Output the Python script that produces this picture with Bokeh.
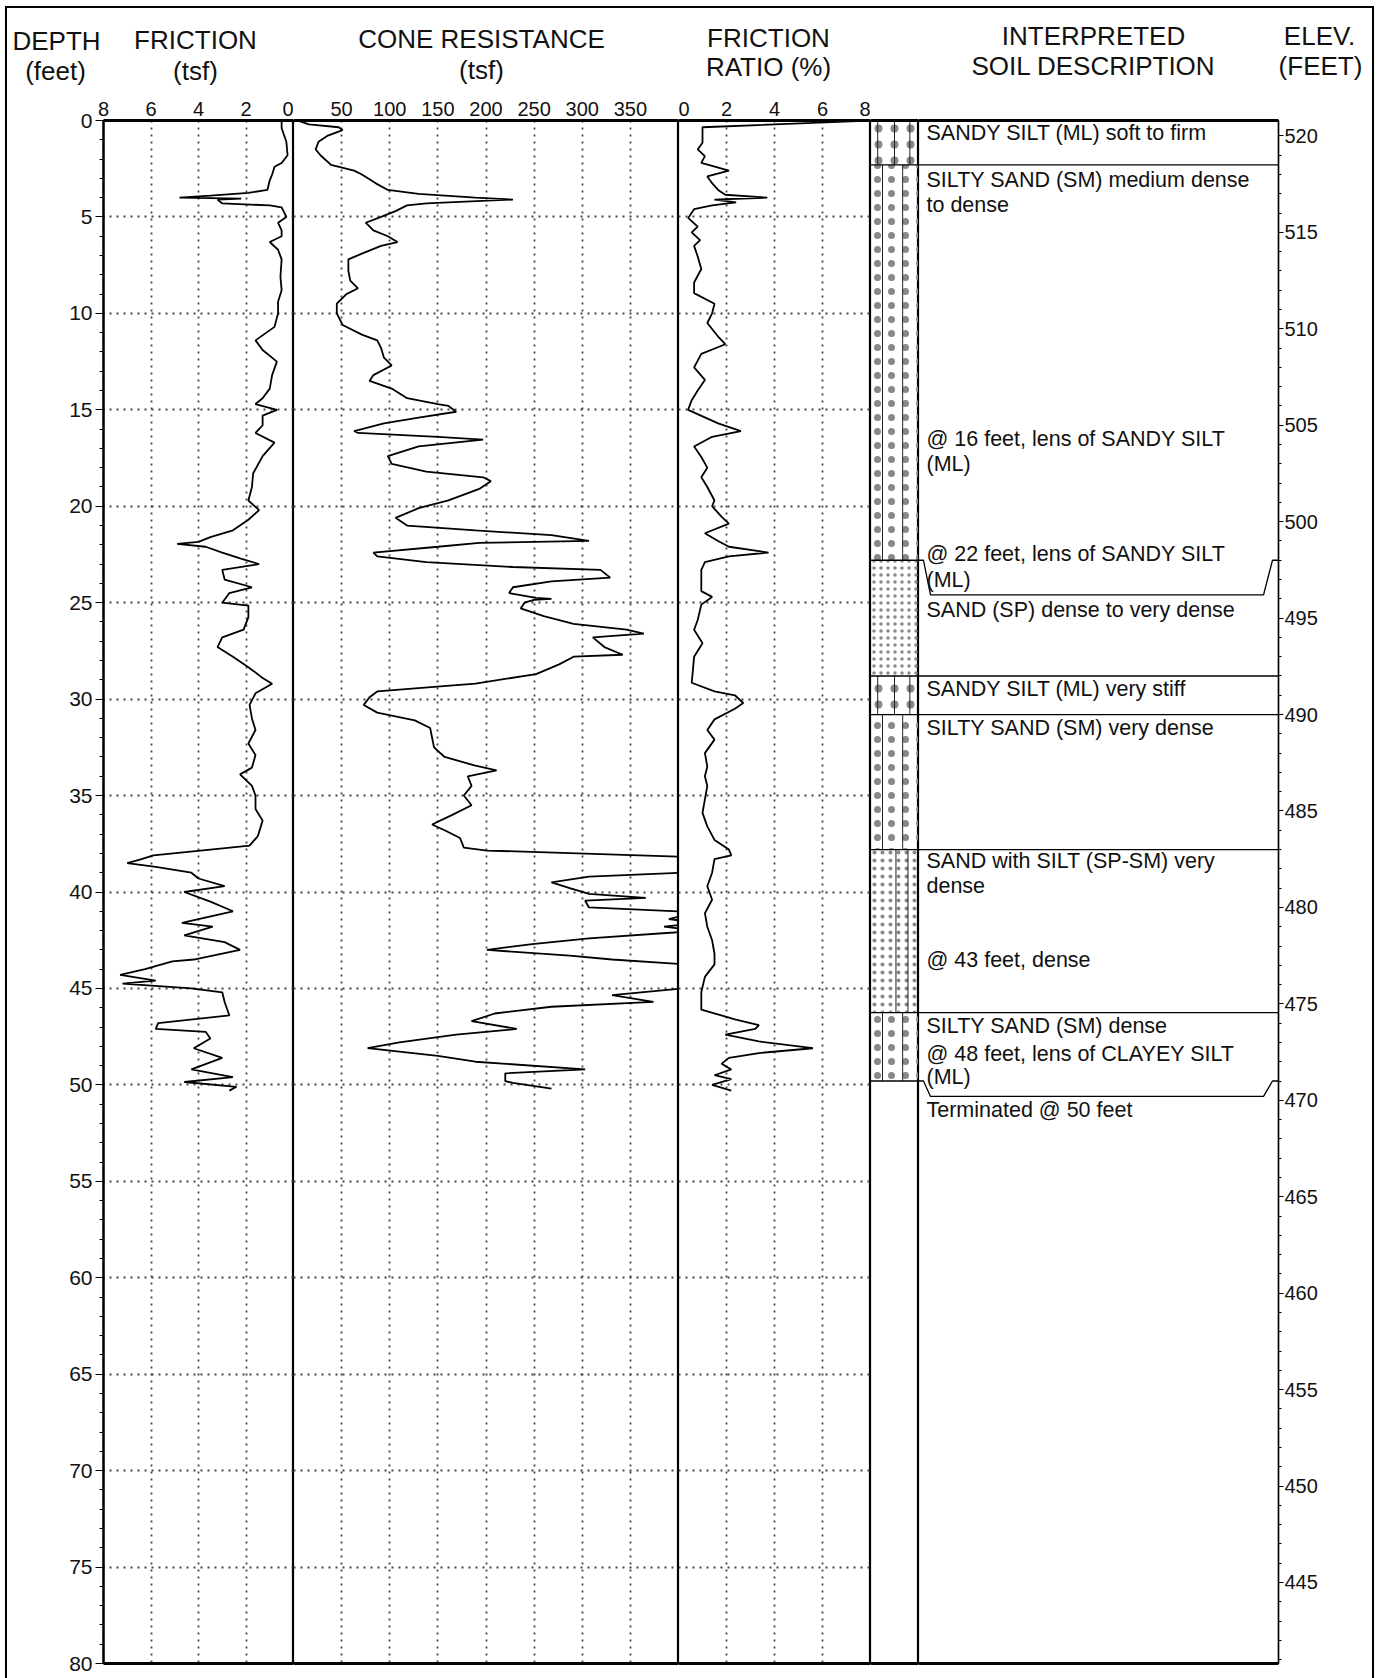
from bokeh.plotting import figure
from bokeh.layouts import row, column
from bokeh.models import Range1d, LinearAxis, FixedTicker, Grid, ColumnDataSource
from bokeh.embed import file_html
from bokeh.resources import INLINE
from bokeh.core.properties import value

FONT = "Liberation Sans"

fs_depth = [0.0, 0.4, 1.1, 1.8, 2.2, 2.4, 2.8, 3.1, 3.6, 3.75, 3.9, 4.0, 4.05, 4.1, 4.3, 4.4, 4.5, 5.0,
            5.3, 5.7, 6.0, 6.3, 6.7, 7.2, 8.1, 8.8, 9.4, 10.0, 10.7, 11.4, 11.9, 12.5, 13.2, 13.9, 14.4,
            14.7, 15.0, 15.3, 15.8, 16.2, 16.7, 17.4, 18.3, 19.0, 19.7, 20.2, 20.7, 21.25, 21.6, 21.85,
            21.95, 22.1, 22.4, 22.7, 23.0, 23.3, 23.8, 24.2, 24.5, 25.0, 25.15, 25.75, 26.4, 26.8, 27.3,
            27.8, 28.35, 28.9, 29.2, 29.7, 30.3, 31.0, 31.6, 32.3, 32.9, 33.55, 33.9, 34.5, 35.0, 35.7,
            36.3, 37.1, 37.6, 37.8, 38.1, 38.3, 38.5, 38.7, 39.0, 39.3, 39.7, 40.0, 40.5, 41.0, 41.6,
            41.8, 42.25, 42.6, 43.0, 43.5, 43.6, 44.0, 44.3, 44.6, 44.75, 45.0, 45.2, 45.7, 46.4, 46.8,
            47.1, 47.25, 47.6, 48.1, 48.6, 49.2, 49.6, 49.85, 50.1, 50.3]
fs_tsf = [0.5, 0.5, 0.3, 0.25, 0.5, 0.8, 0.9, 1.0, 1.1, 1.9, 3.5, 4.8, 2.2, 3.2, 3.0, 1.0, 0.5, 0.3,
          0.65, 0.5, 0.5, 1.0, 0.65, 0.5, 0.55, 0.5, 0.65, 0.65, 0.8, 1.6, 1.3, 0.7, 0.9, 1.0, 1.3,
          1.6, 0.7, 1.3, 1.3, 1.6, 0.8, 1.3, 1.7, 1.75, 1.9, 1.45, 1.9, 2.55, 3.5, 4.0,
          4.9, 3.7, 3.0, 2.25, 1.45, 3.0, 2.9, 1.75, 2.7, 3.0, 1.9, 1.9, 2.1, 3.0, 3.2,
          2.55, 1.9, 1.3, 0.9, 1.6, 1.85, 1.75, 1.6, 1.9, 1.6, 1.75, 2.25, 1.75, 1.6, 1.6,
          1.3, 1.5, 1.85, 3.5, 5.9, 6.4, 7.0, 5.8, 4.3, 4.0, 2.9, 4.6, 3.5, 2.55, 4.7,
          3.4, 4.6, 2.9, 2.25, 4.2, 5.1, 6.25, 7.3, 5.8, 7.2, 4.3, 3.0, 2.9, 2.7, 5.7,
          5.8, 3.7, 3.5, 4.2, 3.0, 4.3, 2.55, 4.6, 2.4, 2.7]

qc_depth = [0.0, 0.2, 0.35, 0.5, 0.8, 1.1, 1.5, 1.8, 2.3, 2.6, 2.8, 3.05, 3.3, 3.6, 3.8, 4.0, 4.1, 4.3,
            4.4, 4.7, 5.0, 5.3, 5.7, 6.0, 6.3, 6.5, 6.9, 7.2, 7.8, 8.3, 8.7, 9.0, 9.5, 10.0, 10.6, 11.1,
            11.4, 11.8, 12.3, 12.7, 13.2, 13.5, 13.9, 14.4, 14.7, 14.8, 15.1, 15.4, 15.7, 16.1, 16.2,
            16.4, 16.55, 16.9, 17.4, 17.8, 18.2, 18.5, 18.7, 19.1, 19.7, 20.1, 20.6, 21.0, 21.25, 21.5,
            21.8, 21.9, 22.1, 22.4, 22.6, 22.9, 23.15, 23.3, 23.7, 23.9, 24.2, 24.5, 24.75, 24.8, 24.85,
            25.0, 25.3, 25.7, 26.1, 26.4, 26.6, 26.8, 27.3, 27.7, 27.8, 28.2, 28.7, 29.2, 29.6, 29.9,
            30.3, 30.7, 31.1, 31.5, 32.0, 32.5, 33.0, 33.45, 33.7, 34.0, 34.5, 35.0, 35.5, 36.0, 36.5,
            36.8, 37.2, 37.7, 37.85, 38.0, 38.2, 38.97, 39.2, 39.5, 39.8, 40.1, 40.3, 40.45, 40.8,
            41.05, 41.4, 41.6, 41.8, 42.0, 42.1, 42.4, 42.7, 43.0, 43.3, 43.5, 43.8, 44.9, 45.0, 45.35,
            45.7, 45.95, 46.3, 46.7, 47.1, 47.4, 47.8, 48.1, 48.5, 48.8, 49.2, 49.4, 49.8, 49.9, 50.2]
qc_tsf = [4, 16, 47, 51, 35, 26, 23, 28, 39, 63, 71, 79, 87, 98, 130, 189, 228, 138,
          118, 106, 91, 75, 83, 98, 108, 91, 71, 57, 57, 59, 67, 55, 45, 45, 51, 71,
          87, 91, 94, 102, 83, 79, 102, 118, 150, 161, 169, 130, 94, 63, 67,
          150, 197, 130, 98, 102, 138, 197, 205, 193, 161, 130, 106, 118, 189, 268,
          307, 193, 150, 83, 87, 138, 228, 319, 329, 268, 228, 224, 252, 268, 250,
          240, 236, 260, 291, 346, 364, 311, 323, 342, 291, 276, 252, 189, 87, 79,
          73, 87, 126, 142, 144, 146, 157, 189, 211, 181, 185, 177, 185, 165, 144,
          157, 173, 177, 201, 295, 420, 420, 307, 268, 287, 307, 366, 303, 307,
          420, 390, 420, 385, 420, 395, 307, 248, 201, 287, 331, 420, 420, 405, 331,
          374, 268, 209, 185, 232, 169, 110, 77, 150, 189, 303, 220, 220, 228, 268]

rf_depth = [0.0, 0.35, 1.15, 1.5, 1.85, 2.2, 2.35, 2.6, 2.9, 3.25, 3.6, 3.85, 4.0, 4.1, 4.25, 4.4, 4.6,
            5.05, 5.5, 5.8, 6.2, 6.5, 7.05, 7.7, 8.4, 8.95, 9.5, 10.0, 10.5, 11.2, 11.6, 12.1, 12.8,
            13.45, 14.0, 14.5, 15.0, 15.7, 16.1, 16.4, 16.9, 17.45, 18.0, 18.5, 19.0, 19.7, 20.0,
            20.55, 20.9, 21.4, 21.8, 22.1, 22.4, 22.6, 22.9, 23.3, 23.9, 24.4, 24.7, 25.1, 25.9, 26.4,
            27.1, 27.8, 28.5, 29.15, 29.6, 29.8, 30.2, 30.5, 31.05, 31.6, 32.1, 32.8, 33.5, 34.0, 34.5,
            35.2, 35.9, 36.6, 37.3, 37.8, 38.1, 38.3, 39.0, 39.7, 40.4, 41.1, 41.8, 42.5, 43.2, 43.75,
            44.4, 45.2, 46.1, 46.6, 46.9, 47.1, 47.4, 47.75, 48.1, 48.35, 48.6, 48.9, 49.2, 49.5, 49.7,
            50.0, 50.3]
rf_pct = [8.2, 1.0, 1.0, 0.8, 1.1, 0.95, 1.4, 2.1, 1.2, 1.4, 1.65, 1.95, 3.7, 1.5, 2.4, 1.4, 0.65,
          0.4, 0.8, 0.55, 0.9, 0.65, 0.8, 0.95, 0.65, 0.65, 1.5, 1.4, 1.2, 1.65, 1.95, 0.95, 0.65,
          1.1, 0.8, 0.55, 0.4, 1.65, 2.6, 1.4, 0.65, 0.95, 1.2, 0.95, 1.2, 1.5, 1.4,
          1.8, 2.1, 1.1, 1.65, 2.1, 3.75, 2.1, 1.1, 0.95, 0.95, 0.95, 1.4, 0.95, 0.8, 0.65,
          1.0, 0.65, 0.6, 0.55, 1.5, 2.35, 2.7, 2.35, 1.5, 1.2, 1.5, 1.1, 1.2, 1.1, 1.2,
          1.1, 1.0, 1.2, 1.5, 2.1, 2.2, 1.5, 1.4, 1.2, 1.4, 1.1, 1.2, 1.4, 1.5, 1.5,
          1.1, 0.95, 0.95, 2.35, 3.35, 3.2, 1.95, 3.35, 5.6, 3.35, 2.1, 1.8, 2.2, 1.5, 2.2,
          1.4, 2.2]

soil_top = [0.0, 2.3, 22.8, 28.8, 30.8, 37.8, 46.25]
soil_bot = [2.3, 22.8, 28.8, 30.8, 37.8, 46.25, 49.8]
soil_code = ["ML", "SM", "SP", "ML", "SM", "SP-SM", "SM"]
full_boundaries = [2.3, 28.8, 30.8, 37.8, 46.25]
lens_top = [22.8, 49.8]
lens_bot = [24.6, 50.6]

desc_text = ["SANDY SILT (ML) soft to firm", "SILTY SAND (SM) medium dense", "to dense",
             "@ 16 feet, lens of SANDY SILT", "(ML)", "@ 22 feet, lens of SANDY SILT", "(ML)",
             "SAND (SP) dense to very dense", "SANDY SILT (ML) very stiff", "SILTY SAND (SM) very dense",
             "SAND with SILT (SP-SM) very", "dense", "@ 43 feet, dense", "SILTY SAND (SM) dense",
             "@ 48 feet, lens of CLAYEY SILT", "(ML)", "Terminated @ 50 feet"]
desc_depth = [0.66, 3.1, 4.37, 16.5, 17.8, 22.5, 23.8, 25.4, 29.5, 31.5, 38.4, 39.7, 43.5, 46.95,
              48.4, 49.6, 51.3]

SURFACE_ELEV = 520.8
depth_ticks = list(range(0, 81, 5))
elev_ticks = list(range(445, 521, 5))
fs_ticks = [8, 6, 4, 2, 0]
qc_ticks = [50, 100, 150, 200, 250, 300, 350]
rf_ticks = [0, 2, 4, 6, 8]

# ---------------- styles ----------------
pattern_lines = {"ML": [0.15, 0.5, 0.82], "SM": [0.25, 0.67], "SP": [], "SP-SM": [0.53, 0.78]}
pattern_scale = {"ML": 16, "SM": 14, "SP": 7, "SP-SM": 8}

FRAME_H = 1543
TOP_B = 32
BOT_B = 15
HDR_H = 88
y_depth = Range1d(80, 0)


def panel(fw, xr, left=0, right=0):
    p = figure(frame_width=fw, frame_height=FRAME_H, x_range=xr, y_range=y_depth,
               min_border_left=left, min_border_right=right, min_border_top=TOP_B,
               min_border_bottom=BOT_B, x_axis_location=None, y_axis_location=None,
               toolbar_location=None, output_backend="svg")
    p.grid.visible = False
    p.outline_line_color = "black"
    p.outline_line_width = 1.2
    p.border_fill_color = None
    p.background_fill_color = None
    return p


def top_axis(p, ticks):
    ax = LinearAxis(ticker=FixedTicker(ticks=ticks, minor_ticks=[]), axis_line_width=3,
                    major_tick_out=0, major_tick_in=0, minor_tick_out=0, minor_tick_in=0,
                    major_label_standoff=5, major_label_text_font=FONT,
                    major_label_text_font_size="20px", major_label_text_color="#111")
    p.add_layout(ax, "above")


def bottom_line(p):
    ax = LinearAxis(ticker=FixedTicker(ticks=[], minor_ticks=[]), axis_line_width=3,
                    major_tick_out=0, major_tick_in=0, minor_tick_out=0, minor_tick_in=0,
                    major_label_text_font_size="0px", major_label_standoff=0)
    p.add_layout(ax, "below")


def grids(p, xt):
    p.add_layout(Grid(dimension=0, ticker=FixedTicker(ticks=xt), grid_line_dash="2 5",
                      grid_line_color="#444", grid_line_width=1.8))
    p.add_layout(Grid(dimension=1, ticker=FixedTicker(ticks=list(range(5, 80, 5))),
                      grid_line_dash="2 5", grid_line_color="#444", grid_line_width=1.8))


# friction
p1 = panel(190, Range1d(8, 0), left=103)
top_axis(p1, fs_ticks)
bottom_line(p1)
grids(p1, [6, 4, 2])
dax = LinearAxis(ticker=FixedTicker(ticks=depth_ticks, minor_ticks=list(range(0, 81))),
                 axis_line_width=2.5, major_tick_out=8, major_tick_in=0, minor_tick_out=4,
                 minor_tick_in=0, major_label_standoff=3, major_label_text_font=FONT,
                 major_label_text_font_size="21px", major_label_text_color="#111")
p1.add_layout(dax, "left")
p1.line(fs_tsf, fs_depth, line_color="black", line_width=1.8)

# cone resistance
p2 = panel(385, Range1d(0, 400))
top_axis(p2, qc_ticks)
bottom_line(p2)
grids(p2, qc_ticks)
p2.line(qc_tsf, qc_depth, line_color="black", line_width=1.8)

# friction ratio
p3 = panel(192, Range1d(0, 8))
top_axis(p3, rf_ticks)
bottom_line(p3)
grids(p3, [2, 4, 6])
p3.line(rf_pct, rf_depth, line_color="black", line_width=1.8)

# soil column
p4 = panel(48, Range1d(0, 1))
top_axis(p4, [])
bottom_line(p4)
for code in ["ML", "SM", "SP", "SP-SM"]:
    idx = [i for i, c in enumerate(soil_code) if c == code]
    src = ColumnDataSource(dict(top=[soil_top[i] for i in idx], bottom=[soil_bot[i] for i in idx]))
    p4.quad(left=0, right=1, top="top", bottom="bottom", source=src, fill_color=None,
            line_color=None, hatch_pattern=".", hatch_scale=pattern_scale[code],
            hatch_color="#888", hatch_weight=0.3)
xs, ys = [], []
for t, b, c in zip(soil_top, soil_bot, soil_code):
    for f in pattern_lines[c]:
        xs.append([f, f])
        ys.append([t, b])
p4.multi_line(xs, ys, line_color="#222", line_width=1)
p4.multi_line([[0, 1] for _ in soil_bot], [[b, b] for b in soil_bot], line_color="black",
              line_width=1.3)

# description + elevation axis
p5 = panel(360, Range1d(0, 360), right=102)
top_axis(p5, [])
bottom_line(p5)
p5.extra_y_ranges = {"elev": Range1d(SURFACE_ELEV - 80, SURFACE_ELEV)}
eax = LinearAxis(y_range_name="elev",
                 ticker=FixedTicker(ticks=elev_ticks, minor_ticks=list(range(441, 521))),
                 axis_line_width=1.5, major_tick_out=5, major_tick_in=0, minor_tick_out=3,
                 minor_tick_in=0, major_label_standoff=1, major_label_text_font=FONT,
                 major_label_text_font_size="20px", major_label_text_color="#111")
p5.add_layout(eax, "right")
p5.multi_line([[0, 360] for _ in full_boundaries], [[b, b] for b in full_boundaries],
              line_color="black", line_width=1.3)
bx, by = [], []
for t, b in zip(lens_top, lens_bot):
    bx.append([0, 5, 12, 345, 354, 360])
    by.append([t, t, b, b, t, t])
p5.multi_line(bx, by, line_color="black", line_width=1.3)
p5.text(x=[8] * len(desc_text), y=desc_depth, text=desc_text, text_align="left",
        text_baseline="middle", text_font=value(FONT), text_font_size="21.5px", text_color="#111")

# header
header_text = ["DEPTH", "(feet)", "FRICTION", "(tsf)", "CONE RESISTANCE", "(tsf)", "FRICTION",
               "RATIO (%)", "INTERPRETED", "SOIL DESCRIPTION", "ELEV.", "(FEET)"]
header_x = [56, 55, 195, 195, 481, 481, 768, 768, 1093, 1093, 1319, 1320]
header_y = [40.7, 70.2, 39.5, 70, 38.5, 69.5, 37.5, 66, 35.3, 65.3, 35.3, 65.3]
hdr = figure(width=1380, height=HDR_H, x_range=Range1d(0, 1380), y_range=Range1d(HDR_H, 0),
             min_border=0, x_axis_location=None, y_axis_location=None, toolbar_location=None,
             output_backend="svg")
hdr.grid.visible = False
hdr.outline_line_color = None
hdr.border_fill_color = None
hdr.background_fill_color = None
hdr.text(x=header_x, y=header_y, text=header_text, text_align="center", text_baseline="middle",
         text_font=value(FONT), text_font_size="26px", text_color="#111")

frame_bg = ("linear-gradient(#000,#000) 5px 6px / 2px 1672px no-repeat, "
            "linear-gradient(#000,#000) 1372px 6px / 2px 1672px no-repeat, "
            "linear-gradient(#000,#000) 5px 6px / 1369px 2px no-repeat, #fff")
layout = column(hdr, row(p1, p2, p3, p4, p5), styles={"background": frame_bg})

open("out.html", "w").write(file_html(layout, INLINE))
